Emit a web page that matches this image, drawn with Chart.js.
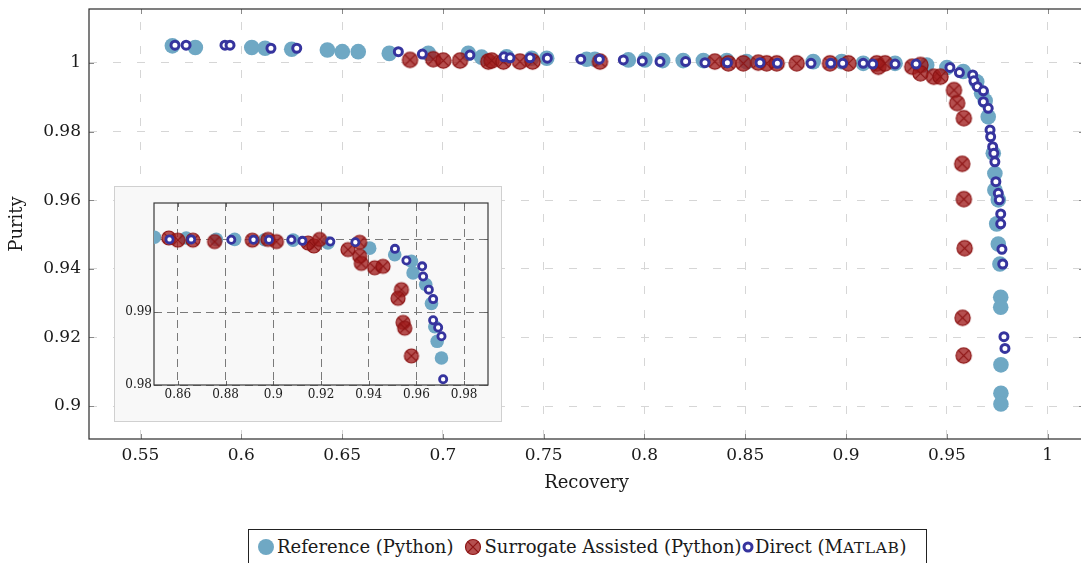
<!DOCTYPE html>
<html>
<head>
<meta charset="utf-8">
<script src="https://cdn.jsdelivr.net/npm/chart.js@4.4.0/dist/chart.umd.min.js"></script>
<style>
  html, body { margin: 0; padding: 0; background: #fff; overflow: hidden; }
  #wrap { position: relative; width: 1081px; height: 563px; overflow: hidden; font-family: 'DejaVu Serif', serif; color: #1a1a1a; }
  #main { position: absolute; left: 0; top: 0; }
  #inset { position: absolute; left: 115px; top: 187px; background: #f8f8f8; box-shadow: 0 0 0 1px #d0d0d0; }
  #legend { position: absolute; left: 248px; top: 529px; width: 677px; height: 40px; border: 1px solid #222; background: #fff; }
  #legend .it { position: absolute; top: 0; height: 34px; line-height: 34px; font-size: 18px; white-space: nowrap; }
  #legend svg { position: absolute; }
  .sc { font-size: 0.86em; letter-spacing: 0.6px; }
</style>
</head>
<body>
<div id="wrap">
  <canvas id="main" width="1084" height="500"></canvas>
  <canvas id="inset" width="386" height="234"></canvas>
  <div id="legend">
    <svg width="18" height="18" style="left:7.5px;top:8px"><circle cx="9" cy="9" r="8" fill="#6fa8c4"/></svg>
    <span class="it" style="left:28px">Reference (Python)</span>
    <svg width="18" height="18" style="left:215px;top:8px"><circle cx="9" cy="9" r="7.5" fill="rgba(160,30,30,0.78)" stroke="#8c1414" stroke-width="1.2"/><path d="M3.7 3.7L14.3 14.3M14.3 3.7L3.7 14.3" stroke="#8c1414" stroke-width="1.2"/></svg>
    <span class="it" style="left:235.5px">Surrogate Assisted (Python)</span>
    <svg width="14" height="14" style="left:491.5px;top:10px"><circle cx="7" cy="7" r="4" fill="#fff" stroke="#36349e" stroke-width="3"/></svg>
    <span class="it" style="left:506px">Direct (M<span class="sc">ATLAB</span>)</span>
  </div>
</div>
<script>
// --- main plot data ---
const refRecovery = [0.5658, 0.5772, 0.6052, 0.6118, 0.6250, 0.6427, 0.6501, 0.6580, 0.6734, 0.6928, 0.7126, 0.7192, 0.7316, 0.7440, 0.7515, 0.7713, 0.7754, 0.7920, 0.8002, 0.8090, 0.8192, 0.8292, 0.8408, 0.8507, 0.8837, 0.8978, 0.9085, 0.9243, 0.9400, 0.9500, 0.9581, 0.9648, 0.9672, 0.9690, 0.9705, 0.9730, 0.9738, 0.9738, 0.9755, 0.9747, 0.9755, 0.9763, 0.9767, 0.9767, 0.9768, 0.9768, 0.9768];
const refPurity   = [1.0050, 1.0045, 1.0045, 1.0043, 1.0040, 1.0038, 1.0033, 1.0033, 1.0028, 1.0028, 1.0028, 1.0017, 1.0018, 1.0014, 1.0014, 1.0011, 1.0011, 1.0009, 1.0009, 1.0007, 1.0007, 1.0007, 1.0007, 1.0004, 1.0004, 1.0004, 0.9999, 0.9999, 0.9994, 0.9987, 0.9975, 0.9945, 0.9912, 0.9890, 0.9843, 0.9737, 0.9678, 0.9630, 0.9601, 0.9531, 0.9472, 0.9414, 0.9317, 0.9288, 0.9120, 0.9037, 0.9006];

const surRecovery = [0.6837, 0.6952, 0.7002, 0.7085, 0.7225, 0.7242, 0.7300, 0.7382, 0.7445, 0.7779, 0.8349, 0.8416, 0.8490, 0.8564, 0.8606, 0.8656, 0.8755, 0.8920, 0.9011, 0.9152, 0.9160, 0.9193, 0.9328, 0.9369, 0.9369, 0.9435, 0.9468, 0.9535, 0.9551, 0.9584, 0.9576, 0.9584, 0.9588, 0.9578, 0.9583];
const surPurity   = [1.0009, 1.0011, 1.0007, 1.0007, 1.0004, 1.0007, 1.0004, 1.0004, 1.0004, 1.0004, 1.0004, 0.9999, 0.9999, 1.0001, 0.9999, 0.9999, 0.9999, 0.9999, 0.9999, 0.9999, 0.9989, 0.9999, 0.9989, 0.9994, 0.9970, 0.9960, 0.9960, 0.9921, 0.9883, 0.9839, 0.9706, 0.9603, 0.9460, 0.9257, 0.9147];

const dirRecovery = [0.5671, 0.5726, 0.5919, 0.5944, 0.6147, 0.6275, 0.6779, 0.6898, 0.7134, 0.7303, 0.7333, 0.7432, 0.7518, 0.7684, 0.7776, 0.7895, 0.7989, 0.8077, 0.8204, 0.8300, 0.8411, 0.8573, 0.8659, 0.8826, 0.8924, 0.8983, 0.9085, 0.9132, 0.9243, 0.9347, 0.9515, 0.9562, 0.9628, 0.9634, 0.9651, 0.9681, 0.9681, 0.9705, 0.9714, 0.9717, 0.9727, 0.9733, 0.9738, 0.9743, 0.9755, 0.9760, 0.9767, 0.9767, 0.9773, 0.9777, 0.9783, 0.9788];
const dirPurity   = [1.0052, 1.0052, 1.0052, 1.0052, 1.0043, 1.0043, 1.0033, 1.0026, 1.0023, 1.0018, 1.0015, 1.0015, 1.0014, 1.0011, 1.0011, 1.0009, 1.0006, 1.0004, 1.0004, 1.0001, 1.0001, 1.0001, 0.9999, 0.9999, 0.9999, 0.9999, 0.9999, 0.9997, 0.9997, 0.9997, 0.9987, 0.9972, 0.9965, 0.9948, 0.9931, 0.9919, 0.9887, 0.9868, 0.9805, 0.9785, 0.9756, 0.9737, 0.9712, 0.9654, 0.9620, 0.9601, 0.9560, 0.9531, 0.9457, 0.9414, 0.9202, 0.9168];

const xTicks = [0.55, 0.6, 0.65, 0.7, 0.75, 0.8, 0.85, 0.9, 0.95, 1];
const xTickLabels = ['0.55', '0.6', '0.65', '0.7', '0.75', '0.8', '0.85', '0.9', '0.95', '1'];
const yTicks = [0.9, 0.92, 0.94, 0.96, 0.98, 1];
const yTickLabels = ['0.9', '0.92', '0.94', '0.96', '0.98', '1'];

// --- inset data ---
const insRefRecovery = [0.8502, 0.8635, 0.8761, 0.8838, 0.8964, 0.9083, 0.9229, 0.9404, 0.9509, 0.9579, 0.9586, 0.9639, 0.9663, 0.9677, 0.9687, 0.9705];
const insRefPurity   = [1.0003, 1.0002, 1.0000, 1.0000, 0.99995, 0.9999, 0.9995, 0.9988, 0.9979, 0.9970, 0.9954, 0.9938, 0.9912, 0.9880, 0.9860, 0.9837];

const insSurRecovery = [0.8562, 0.8600, 0.8663, 0.8754, 0.8912, 0.8978, 0.9013, 0.9146, 0.9170, 0.9194, 0.9313, 0.9362, 0.9362, 0.9369, 0.9425, 0.9460, 0.9537, 0.9523, 0.9544, 0.9551, 0.9579];
const insSurPurity   = [1.0002, 0.9999, 0.9999, 0.9997, 0.9999, 1.0000, 0.9997, 0.9995, 0.9991, 1.0000, 0.9986, 0.9996, 0.9977, 0.9967, 0.9961, 0.9963, 0.9931, 0.9919, 0.9886, 0.9878, 0.9840];

const insDirRecovery = [0.8565, 0.8656, 0.8824, 0.8917, 0.8982, 0.9076, 0.9122, 0.9239, 0.9344, 0.9510, 0.9558, 0.9624, 0.9628, 0.9652, 0.9670, 0.9670, 0.9691, 0.9705, 0.9712];
const insDirPurity   = [1.0000, 1.0000, 0.99995, 0.99995, 0.99995, 0.99995, 0.9998, 0.9997, 0.9996, 0.9987, 0.9971, 0.9963, 0.9949, 0.9931, 0.9918, 0.9889, 0.9879, 0.9867, 0.9808];

const insXTicks = [0.86, 0.88, 0.9, 0.92, 0.94, 0.96, 0.98];
const insXTickLabels = ['0.86', '0.88', '0.9', '0.92', '0.94', '0.96', '0.98'];
const insYTicks = [0.98, 0.99, 1];
const insYTickLabels = ['0.98', '0.99', ''];

// --- colours ---
const refColor = '#6fa8c4';
const surFill = 'rgba(160,30,30,0.78)';
const surLine = '#8c1414';
const dirColor = '#36349e';
const fontFam = "'DejaVu Serif', serif";

function zip(xs, ys) { return xs.map((x, i) => ({ x: x, y: ys[i] })); }

// circle with an x inside (pgfplots "otimes")
function crossCircle(r, lw) {
  const s = Math.ceil(2 * r + lw + 2);
  const c = document.createElement('canvas');
  c.width = s; c.height = s;
  const g = c.getContext('2d');
  const m = s / 2;
  g.beginPath(); g.arc(m, m, r, 0, Math.PI * 2);
  g.fillStyle = surFill; g.fill();
  g.lineWidth = lw; g.strokeStyle = surLine; g.stroke();
  const d = r * Math.SQRT1_2;
  g.beginPath();
  g.moveTo(m - d, m - d); g.lineTo(m + d, m + d);
  g.moveTo(m + d, m - d); g.lineTo(m - d, m + d);
  g.stroke();
  return c;
}

// frame + inward ticks on all four sides
const framePlugin = {
  id: 'frame',
  beforeDatasetsDraw(chart, args, o) {
    const { ctx, chartArea: a, scales } = chart;
    ctx.save();
    ctx.lineWidth = 1;
    ctx.strokeStyle = o.tickColor;
    ctx.beginPath();
    scales.x.ticks.forEach(t => {
      const p = Math.round(scales.x.getPixelForValue(t.value)) + 0.5;
      ctx.moveTo(p, a.bottom); ctx.lineTo(p, a.bottom - o.tickLen);
      ctx.moveTo(p, a.top); ctx.lineTo(p, a.top + o.tickLen);
    });
    scales.y.ticks.forEach(t => {
      const p = Math.round(scales.y.getPixelForValue(t.value)) + 0.5;
      ctx.moveTo(a.left, p); ctx.lineTo(a.left + o.tickLen, p);
      ctx.moveTo(a.right, p); ctx.lineTo(a.right - o.tickLen, p);
    });
    ctx.stroke();
    ctx.lineWidth = o.width;
    ctx.strokeStyle = o.color;
    ctx.strokeRect(a.left, a.top, a.right - a.left, a.bottom - a.top);
    ctx.restore();
  }
};

function fixTicks(list) {
  return function (scale) { scale.ticks = list.map(v => ({ value: v })); };
}
// fixed axis box size, no extra room for edge labels
function fitX(h) {
  return function (s) { s.height = h; s.paddingLeft = 0; s.paddingRight = 0; };
}
function fitY(w) {
  return function (s) { s.width = w; s.paddingTop = 0; s.paddingBottom = 0; };
}

// --- main chart ---
new Chart(document.getElementById('main'), {
  type: 'scatter',
  data: {
    datasets: [
      { label: 'Direct (Matlab)', data: zip(dirRecovery, dirPurity), order: 0,
        pointStyle: 'circle', pointRadius: 4, pointBorderWidth: 3,
        backgroundColor: '#fff', borderColor: dirColor },
      { label: 'Surrogate Assisted (Python)', data: zip(surRecovery, surPurity), order: 1,
        pointStyle: crossCircle(7.6, 1.2), pointRadius: 8 },
      { label: 'Reference (Python)', data: zip(refRecovery, refPurity), order: 2,
        pointStyle: 'circle', pointRadius: 7.8, pointBorderWidth: 0,
        backgroundColor: refColor, borderColor: refColor }
    ]
  },
  options: {
    responsive: false,
    animation: false,
    events: [],
    layout: { autoPadding: false, padding: { top: 9, right: 0, left: 0, bottom: 0 } },
    plugins: {
      legend: { display: false },
      tooltip: { enabled: false },
      frame: { color: '#2a2a2a', width: 1.2, tickColor: '#8a8a8a', tickLen: 5 }
    },
    scales: {
      x: {
        type: 'linear', min: 0.52445, max: 1.01801,
        afterBuildTicks: fixTicks(xTicks),
        afterFit: fitX(61),
        ticks: { callback: (v, i) => xTickLabels[i], color: '#1a1a1a', font: { family: fontFam, size: 17 }, padding: 6, maxRotation: 0, autoSkip: false },
        grid: { color: '#d6d6d6', lineWidth: 1, drawTicks: false },
        border: { display: false, dash: [8, 16], dashOffset: 11 },
        title: { display: true, text: 'Recovery', color: '#1a1a1a', font: { family: fontFam, size: 18 }, padding: { top: 0, bottom: 6 } }
      },
      y: {
        type: 'linear', min: 0.89038, max: 1.01574,
        afterBuildTicks: fixTicks(yTicks),
        afterFit: fitY(89),
        ticks: { callback: (v, i) => yTickLabels[i], color: '#1a1a1a', font: { family: fontFam, size: 17 }, padding: 8, autoSkip: false },
        grid: { color: '#d6d6d6', lineWidth: 1, drawTicks: false },
        border: { display: false, dash: [8, 16] },
        title: { display: true, text: 'Purity', color: '#1a1a1a', font: { family: fontFam, size: 18 }, padding: { top: 7, bottom: 0 } }
      }
    }
  },
  plugins: [framePlugin]
});

// --- inset ---
new Chart(document.getElementById('inset'), {
  type: 'scatter',
  data: {
    datasets: [
      { data: zip(insDirRecovery, insDirPurity), order: 0,
        pointStyle: 'circle', pointRadius: 3.6, pointBorderWidth: 2.8,
        backgroundColor: '#fff', borderColor: dirColor },
      { data: zip(insSurRecovery, insSurPurity), order: 1,
        pointStyle: crossCircle(7, 1.2), pointRadius: 7 },
      { data: zip(insRefRecovery, insRefPurity), order: 2,
        pointStyle: 'circle', pointRadius: 6.8, pointBorderWidth: 0,
        backgroundColor: refColor, borderColor: refColor }
    ]
  },
  options: {
    responsive: false,
    animation: false,
    events: [],
    layout: { autoPadding: false, padding: { top: 16, right: 13, left: 0, bottom: 0 } },
    plugins: {
      legend: { display: false },
      tooltip: { enabled: false },
      frame: { color: '#3a3a3a', width: 1.2, tickColor: '#6a6a6a', tickLen: 4 }
    },
    scales: {
      x: {
        type: 'linear', min: 0.85, max: 0.99,
        afterBuildTicks: fixTicks(insXTicks),
        afterFit: fitX(36),
        ticks: { callback: (v, i) => insXTickLabels[i], color: '#1a1a1a', font: { family: fontFam, size: 12 }, padding: 3, maxRotation: 0, autoSkip: false },
        grid: { color: '#7a7a7a', lineWidth: 1, drawTicks: false },
        border: { display: false, dash: [8, 5] }
      },
      y: {
        type: 'linear', min: 0.98, max: 1.005,
        afterBuildTicks: fixTicks(insYTicks),
        afterFit: fitY(39),
        ticks: { callback: (v, i) => insYTickLabels[i], color: '#1a1a1a', font: { family: fontFam, size: 12 }, padding: 2, autoSkip: false },
        grid: { color: '#7a7a7a', lineWidth: 1, drawTicks: false },
        border: { display: false, dash: [8, 5] }
      }
    }
  },
  plugins: [framePlugin]
});
</script>
</body>
</html>
